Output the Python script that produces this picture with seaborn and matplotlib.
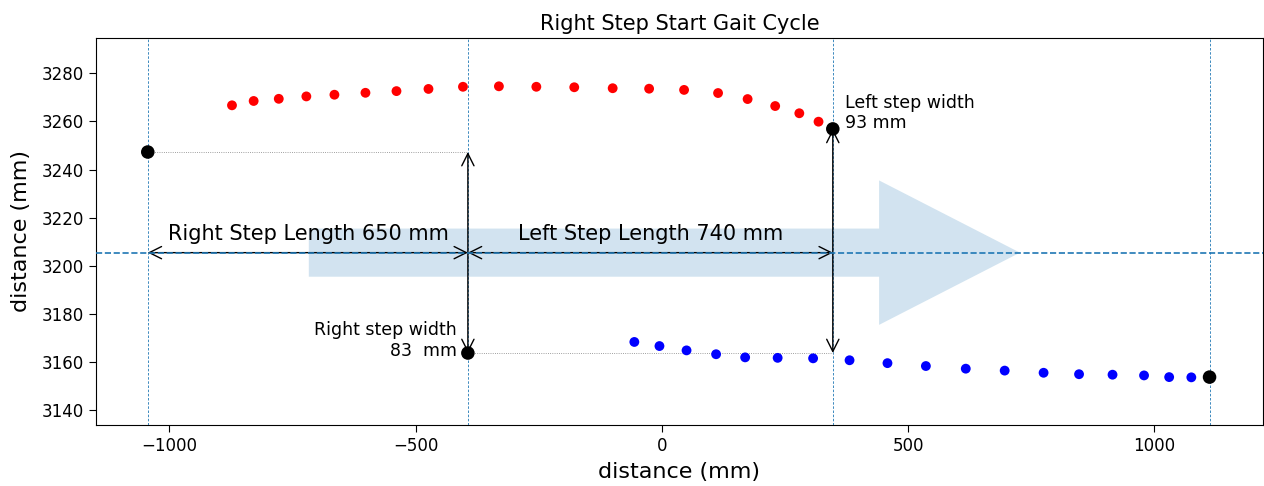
import numpy as np
import pandas as pd
import matplotlib
matplotlib.use("Agg")
import matplotlib.pyplot as plt
import seaborn as sns

# Left foot trajectory (red)
left_x = [-873, -829, -778, -722, -665, -602, -539, -474, -404, -331,
          -255, -178, -100, -26, 45, 114, 174, 230, 279, 318]
left_y = [3266.7, 3268.5, 3269.4, 3270.4, 3271.1, 3271.9, 3272.6, 3273.5, 3274.4, 3274.6,
          3274.4, 3274.2, 3273.8, 3273.6, 3273.1, 3271.8, 3269.3, 3266.4, 3263.4, 3259.9]

# Right foot trajectory (blue)
right_x = [-56, -5, 50, 110, 169, 235, 307, 381, 458, 536,
           617, 696, 775, 847, 915, 979, 1030, 1075]
right_y = [3168.4, 3166.7, 3164.9, 3163.3, 3162.0, 3161.8, 3161.6, 3160.8, 3159.6, 3158.4,
           3157.3, 3156.5, 3155.6, 3155.0, 3154.8, 3154.5, 3153.8, 3153.7]

# Heel strike events (black)
event_x = [-1044, -394, 347, 1112]
event_y = [3247.3, 3163.8, 3256.9, 3153.8]

center_y = 3205.5
arrow_start_x = -717
arrow_len = 1444

title = "Right Step Start Gait Cycle"
right_len_label = "Right Step Length 650 mm"
left_len_label = "Left Step Length 740 mm"
left_width_label = "Left step width\n93 mm"
right_width_label = "Right step width\n83  mm"

fig = plt.figure(figsize=(12.64, 4.86), dpi=100)
ax = fig.add_axes([0.076, 0.1255, 0.923, 0.7965])

# big direction arrow
ax.arrow(arrow_start_x, center_y, arrow_len, 0, width=20, head_width=60,
         head_length=286, length_includes_head=True, color="tab:blue",
         alpha=0.2, lw=0, zorder=1)

# vertical event lines
for xv in event_x:
    ax.axvline(xv, color="tab:blue", ls="--", lw=0.6, dashes=(3, 2), zorder=2)

ax.axhline(center_y, color="tab:blue", ls="--", lw=1.2, zorder=4)

# gray dotted reference lines
ax.plot([event_x[0], event_x[1]], [event_y[0], event_y[0]], color="gray", ls=":", lw=0.6, zorder=2)
ax.plot([event_x[1], event_x[2]], [event_y[1], event_y[1]], color="gray", ls=":", lw=0.6, zorder=2)

# step length arrows
ap = dict(arrowstyle="<->", color="black", lw=1, mutation_scale=22, shrinkA=0, shrinkB=0)
ax.annotate("", xy=(event_x[0], center_y), xytext=(event_x[1], center_y), arrowprops=ap, zorder=3)
ax.annotate("", xy=(event_x[1], center_y), xytext=(event_x[2], center_y), arrowprops=ap, zorder=3)
# step width arrows
ax.annotate("", xy=(event_x[1], event_y[0]), xytext=(event_x[1], event_y[1]), arrowprops=ap, zorder=3)
ax.annotate("", xy=(event_x[2], event_y[2]), xytext=(event_x[2], event_y[1]), arrowprops=ap, zorder=3)

df_l = pd.DataFrame({"x": left_x, "y": left_y})
df_r = pd.DataFrame({"x": right_x, "y": right_y})
df_e = pd.DataFrame({"x": event_x, "y": event_y})
sns.scatterplot(data=df_l, x="x", y="y", color="red", s=50, edgecolor="none", ax=ax, zorder=5)
sns.scatterplot(data=df_r, x="x", y="y", color="blue", s=50, edgecolor="none", ax=ax, zorder=5)
sns.scatterplot(data=df_e, x="x", y="y", color="black", s=95, edgecolor="none", ax=ax, zorder=6)

ax.text(-718, 3213.2, right_len_label, fontsize=15, ha="center", va="center", zorder=7)
ax.text(-22, 3213.2, left_len_label, fontsize=15, ha="center", va="center", zorder=7)
ax.text(372, 3263.5, left_width_label, fontsize=12.5, ha="left", va="center", zorder=7)
ax.text(-416, 3169, right_width_label, fontsize=12.5, ha="right", va="center",
        multialignment="right", zorder=7)

ax.set_xlim(-1149, 1220)
ax.set_ylim(3133.9, 3294.7)
ax.set_yticks(np.arange(3140, 3281, 20))
ax.set_xticks([-1000, -500, 0, 500, 1000])
ax.set_title(title, fontsize=15)
ax.set_xlabel("distance (mm)", fontsize=16, labelpad=5)
ax.set_ylabel("distance (mm)", fontsize=16, labelpad=8)
ax.tick_params(labelsize=12, length=5)

fig.savefig("out.png", dpi=100)
